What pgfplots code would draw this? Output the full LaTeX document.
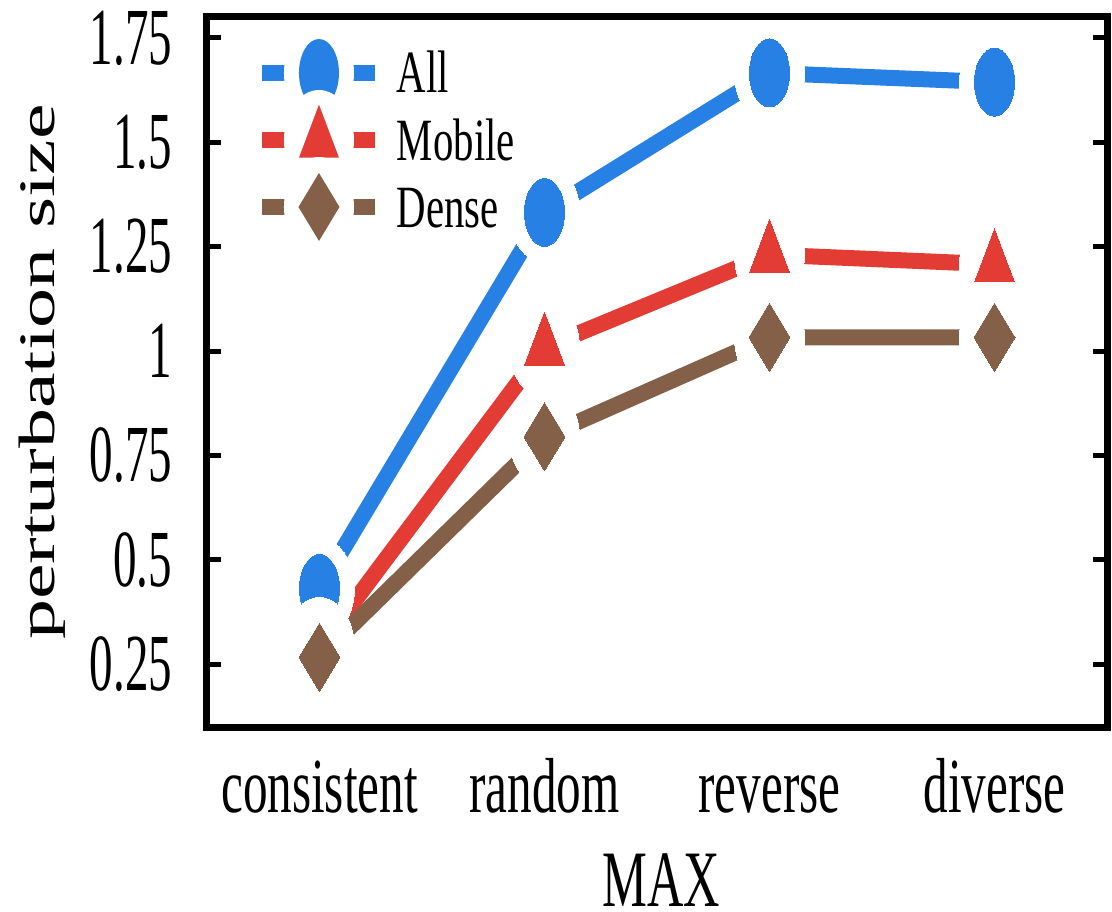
\documentclass[border=0pt]{standalone}
\usepackage{pgfplots}
\pgfplotsset{compat=1.18}
\usepackage{pgfplotstable}
\usepackage{fontspec}
\usepackage{graphicx}
\setmainfont{Liberation Serif}
\newfontfamily\ytfont[FakeStretch=0.58]{Liberation Serif}
\newfontfamily\xtfont[FakeStretch=0.63]{Liberation Serif}
\newfontfamily\lgfont[FakeStretch=0.68]{Liberation Serif}
\definecolor{cAll}{RGB}{39,128,228}
\definecolor{cMob}{RGB}{226,60,52}
\definecolor{cDen}{RGB}{133,96,72}
\pgfplotstableread{
x all mob den
0 0.432 0.290 0.267
1 1.332 1.009 0.795
2 1.666 1.231 1.033
3 1.644 1.208 1.033
}\data
\begin{document}
\begin{tikzpicture}
\begin{axis}[
  scale only axis, width=225pt, height=177.5pt,
  xmin=-0.5, xmax=3.5, ymin=0.1, ymax=1.8,
  clip=false,
  xtick={0,1,2,3}, xticklabels={consistent,random,reverse,diverse},
  ytick={0.25,0.5,0.75,1,1.25,1.5,1.75},
  yticklabels={0.25,0.5,0.75,1,1.25,1.5,1.75},
  xtick style={draw=none},
  ytick style={line width=1.25pt, black},
  major tick length=3.5pt,
  tick align=inside,
  axis line style={line width=1.75pt},
  xticklabel style={font=\xtfont\fontsize{19.5pt}{19.5pt}\selectfont, anchor=base, yshift=-21.25pt, inner sep=0pt},
  yticklabel style={font=\ytfont\fontsize{20.25pt}{20.25pt}\selectfont, anchor=east, xshift=-8.5pt, inner sep=0pt},
  xlabel={MAX},
  every axis x label/.style={at={(axis description cs:0.5,0)}, anchor=base, xshift=1pt, yshift=-44.75pt, inner sep=0pt, font=\xtfont\fontsize{20pt}{20pt}\selectfont},
  ylabel={\scalebox{1}[0.64]{perturbation size}},
  every axis y label/.style={at={(axis description cs:0,0.5)}, xshift=-38pt, rotate=90, anchor=base, inner sep=0pt, font=\fontsize{20pt}{20pt}\selectfont},
  legend cell align=left,
  legend style={draw=none, fill=none, at={(axis description cs:0.0522,0.9493)}, anchor=north west,
    inner sep=0pt, outer sep=0pt, row sep=6.75pt,
    font=\lgfont\fontsize{15pt}{15pt}\selectfont,
    nodes={inner sep=0pt, text height=10pt, text depth=0pt},
    /tikz/every odd column/.append style={column sep=3.5pt}},
]
% All
\addplot[cAll, line width=4pt, mark=none,
  legend image code/.code={
    \draw[cAll, line width=4pt] (0pt,0pt) -- (28.25pt,0pt);
    \path[fill=white, draw=none, overlay] (14.25pt,0pt) ellipse [x radius=8.75pt, y radius=12.5pt];
    \path[fill=cAll, draw=none, overlay] (14.25pt,0pt) ellipse [x radius=5pt, y radius=8.5pt];
  }] table[x=x, y=all] {\data};
\addlegendentry{All}
\addplot[only marks, forget plot, mark=*, mark size=8.75pt, mark options={yscale=1.43, draw=white, fill=white, line width=0pt}] table[x=x, y=all] {\data};
\addplot[only marks, forget plot, mark=*, mark size=5pt, mark options={yscale=1.7, draw=cAll, fill=cAll, line width=0pt}] table[x=x, y=all] {\data};
% Mobile
\addplot[cMob, line width=4pt, mark=none,
  legend image code/.code={
    \draw[cMob, line width=4pt] (0pt,0pt) -- (28.25pt,0pt);
    \path[fill=white, draw=none, overlay] (14.25pt,0pt) ellipse [x radius=8.75pt, y radius=12.5pt];
    \path[fill=cMob, draw=none, overlay] (14.25pt,8.83pt) -- (19.25pt,-4.41pt) -- (9.25pt,-4.41pt) -- cycle;
  }] table[x=x, y=mob] {\data};
\addlegendentry{Mobile}
\addplot[only marks, forget plot, mark=*, mark size=8.75pt, mark options={yscale=1.43, draw=white, fill=white, line width=0pt}] table[x=x, y=mob] {\data};
\addplot[only marks, forget plot, mark=triangle*, mark size=5.77pt, mark options={yscale=1.53, draw=cMob, fill=cMob, line width=0pt}] table[x=x, y=mob] {\data};
% Dense
\addplot[cDen, line width=4pt, mark=none,
  legend image code/.code={
    \draw[cDen, line width=4pt] (0pt,0pt) -- (28.25pt,0pt);
    \path[fill=white, draw=none, overlay] (14.25pt,0pt) ellipse [x radius=8.75pt, y radius=12.5pt];
    \path[fill=cDen, draw=none, overlay] (14.25pt,8.5pt) -- (19.37pt,0pt) -- (14.25pt,-8.5pt) -- (9.13pt,0pt) -- cycle;
  }] table[x=x, y=den] {\data};
\addlegendentry{Dense}
\addplot[only marks, forget plot, mark=*, mark size=8.75pt, mark options={yscale=1.43, draw=white, fill=white, line width=0pt}] table[x=x, y=den] {\data};
\addplot[only marks, forget plot, mark=diamond*, mark size=6.83pt, mark options={yscale=1.245, draw=cDen, fill=cDen, line width=0pt}] table[x=x, y=den] {\data};
\end{axis}
\path ([shift={(-51.75pt,-46pt)}]current axis.south west) rectangle ([shift={(226.25pt,181.75pt)}]current axis.south west);
\end{tikzpicture}
\end{document}
